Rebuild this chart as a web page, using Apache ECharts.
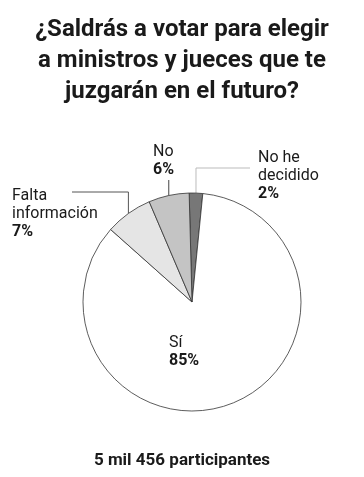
<!DOCTYPE html>
<html><head><meta charset="utf-8">
<script src="https://cdn.jsdelivr.net/npm/echarts@6/dist/echarts.min.js"></script>
<style>html,body{margin:0;padding:0;background:#fff}#c{width:364px;height:477px}</style>
</head><body><div id="c"></div>
<script>
const categories = ['No he decidido', 'Sí', 'Falta información', 'No'];
const labelNames = ['No he\ndecidido', 'Sí', 'Falta\ninformación', 'No'];
const values = [2, 85, 7, 6];
const colors = ['#777777', '#ffffff', '#e5e5e5', '#c4c4c4'];
const titleText = '¿Saldrás a votar para elegir\na ministros y jueces que te\njuzgarán en el futuro?';
const footerText = '5 mil 456 participantes';

const FONT = 'Roboto, "Liberation Sans", sans-serif';
const chart = echarts.init(document.getElementById('c'), null, {renderer: 'canvas'});

// label placement (annotation layout, not data)
const labelPos = {
  'No he decidido': {x: 258, y: 149, line: (a) => [a, [a[0], 168], [250, 168]], color: '#bbbbbb'},
  'Sí': {x: 169, y: 334, line: null},
  'Falta información': {x: 12, y: 187, line: (a) => [a, [a[0], 192], [72, 192]], color: '#555555'},
  'No': {x: 153, y: 143, line: (a) => [a, [a[0], 180]], color: '#444444'}
};

chart.setOption({
  animation: false,
  title: {
    text: titleText,
    left: 'center',
    top: 9,
    textStyle: {fontFamily: FONT, fontSize: 24, fontWeight: 'bold', lineHeight: 31, color: '#1a1a1a'}
  },
  graphic: [{
    type: 'text',
    left: 'center',
    top: 452,
    style: {text: footerText, font: 'bold 17px ' + FONT, fill: '#1a1a1a'}
  }],
  series: [{
    type: 'pie',
    center: [192, 302],
    radius: 109,
    startAngle: 91.5,
    clockwise: true,
    data: categories.map((c, i) => ({
      name: c,
      value: values[i],
      itemStyle: {color: colors[i]},
      labelLine: {lineStyle: {color: (labelPos[c].color || '#444')}}
    })),
    itemStyle: {borderColor: '#333333', borderWidth: 0.8},
    label: {
      show: true,
      position: 'outside',
      formatter: (p) => labelNames[p.dataIndex] + '\n{b|' + p.value + '%}',
      fontFamily: FONT,
      fontSize: 16,
      lineHeight: 18,
      color: '#1a1a1a',
      align: 'left',
      overflow: 'none',
      width: 200,
      rich: {b: {fontFamily: FONT, fontSize: 16, fontWeight: 'bold', lineHeight: 18, color: '#1a1a1a'}}
    },
    labelLine: {show: true, length: 10, length2: 10, lineStyle: {width: 1}},
    labelLayout: function (params) {
      const name = categories[params.dataIndex];
      const lp = labelPos[name];
      const res = {x: lp.x, y: lp.y, align: 'left', verticalAlign: 'top', hideOverlap: false};
      if (lp.line && params.labelLinePoints) {
        res.labelLinePoints = lp.line(params.labelLinePoints[0]);
      } else {
        res.labelLinePoints = [[0,0],[0,0]];
      }
      return res;
    }
  }]
});
</script></body></html>
